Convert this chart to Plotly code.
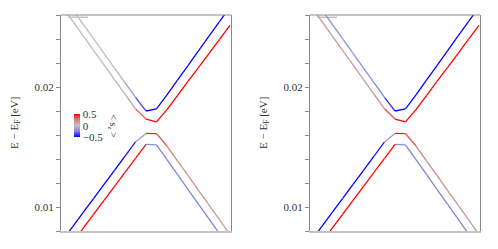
import plotly.graph_objects as go
from plotly.colors import sample_colorscale

# k grid (arbitrary units along the k path)
k = [0, 1, 2, 3, 4, 5, 6, 7, 8, 9, 10, 11, 12, 13, 14, 15, 16]

# band energies E - E_F [eV]
band_A = [0.02771, 0.02648, 0.02525, 0.02403, 0.02281, 0.02158, 0.02036, 0.01914, 0.01800,
          0.01818, 0.01935, 0.02057, 0.02179, 0.02301, 0.02423, 0.02544, 0.02666]
band_B = [0.02672, 0.02550, 0.02428, 0.02306, 0.02184, 0.02062, 0.01940, 0.01818, 0.01733,
          0.01710, 0.01812, 0.01929, 0.02046, 0.02162, 0.02279, 0.02396, 0.02513]
band_C = [0.00717, 0.00834, 0.00953, 0.01070, 0.01188, 0.01306, 0.01424, 0.01542, 0.01613,
          0.01611, 0.01508, 0.01385, 0.01263, 0.01139, 0.01017, 0.00894, 0.00771]
band_D = [0.00587, 0.00704, 0.00821, 0.00938, 0.01055, 0.01172, 0.01288, 0.01405, 0.01522,
          0.01518, 0.01394, 0.01271, 0.01147, 0.01024, 0.00901, 0.00777, 0.00654]

# spin expectation <s_z> per k point (left panel)
sz_A_left = [0.0, 0.0, 0.0, -0.01, -0.02, -0.05, -0.15, -0.35, -0.5, -0.5, -0.5, -0.5, -0.5, -0.5, -0.5, -0.5, -0.5]
sz_B_left = [0.02, 0.02, 0.02, 0.03, 0.04, 0.06, 0.12, 0.3, 0.5, 0.5, 0.5, 0.5, 0.5, 0.5, 0.5, 0.5, 0.5]
sz_C_left = [-0.5, -0.5, -0.5, -0.5, -0.5, -0.5, -0.45, -0.15, 0.45, 0.35, 0.25, 0.2, 0.2, 0.18, 0.17, 0.15, 0.15]
sz_D_left = [0.5, 0.5, 0.5, 0.5, 0.5, 0.5, 0.5, 0.5, -0.2, -0.25, -0.25, -0.25, -0.25, -0.25, -0.25, -0.25, -0.25]
# right panel
sz_A_right = [-0.18, -0.18, -0.18, -0.18, -0.19, -0.2, -0.25, -0.4, -0.5, -0.5, -0.5, -0.5, -0.5, -0.5, -0.5, -0.5, -0.5]
sz_B_right = [0.15, 0.15, 0.15, 0.15, 0.15, 0.16, 0.2, 0.35, 0.5, 0.5, 0.5, 0.5, 0.5, 0.5, 0.5, 0.5, 0.5]
sz_C_right = sz_C_left
sz_D_right = sz_D_left

# short grey stub near top-left of each panel
stub_k = [0.57, 2.48]
stub_E = [0.02582, 0.02582]

y_ticks = [0.01, 0.02]
y_ticklabels = ["0.01", "0.02"]
cbar_vals = [-0.5, 0, 0.5]
cbar_text = ["\u22120.5", "0", "0.5"]

cscale = [[0, "#0000ff"], [0.25, "#8282e0"], [0.5, "#c0c0c0"], [0.75, "#d08282"], [1, "#ff0000"]]

W, H = 498, 249
def px_x(p): return p / W
def px_y(p): return 1 - p / H

fig = go.Figure()

panels = [
    ("x", "y", [(band_A, sz_A_left), (band_B, sz_B_left), (band_C, sz_C_left), (band_D, sz_D_left)]),
    ("x2", "y2", [(band_A, sz_A_right), (band_B, sz_B_right), (band_C, sz_C_right), (band_D, sz_D_right)]),
]
for xa, ya, bands in panels:
    fig.add_trace(go.Scatter(x=stub_k, y=stub_E, mode="lines", xaxis=xa, yaxis=ya,
                             line=dict(color="#a8a8a8", width=1), showlegend=False, hoverinfo="skip"))
    for E, sz in bands:
        for i in range(len(k) - 1):
            col = sample_colorscale(cscale, [(sz[i] + 0.5)])[0]
            fig.add_trace(go.Scatter(x=[k[i], k[i + 1]], y=[E[i], E[i + 1]], mode="lines",
                                     xaxis=xa, yaxis=ya, line=dict(color=col, width=1.3),
                                     showlegend=False, hoverinfo="skip"))

# colorbar carrier
fig.add_trace(go.Scatter(x=[None], y=[None], mode="markers", xaxis="x", yaxis="y", showlegend=False,
                         marker=dict(color=[0], cmin=-0.5, cmax=0.5, colorscale=cscale, showscale=True,
                                     colorbar=dict(x=px_x(74.3), xanchor="left", y=px_y(125.7), yanchor="middle",
                                                   len=23, lenmode="pixels", thickness=6, thicknessmode="pixels",
                                                   xpad=0, ypad=0, outlinewidth=0, ticks="",
                                                   tickvals=cbar_vals, ticktext=cbar_text,
                                                   tickfont=dict(family="Liberation Serif", size=11, color="#333")))))

ydom = [px_y(231), px_y(15)]
common_x = dict(range=[-0.1, 16.1], showticklabels=False, ticks="", showgrid=False, zeroline=False,
                showline=True, linecolor="#c4c4c4", linewidth=2)
common_y = dict(range=[0.008, 0.026], domain=ydom, tickvals=y_ticks, ticktext=y_ticklabels,
                ticks="outside", ticklen=4, tickcolor="#8a8a8a", showgrid=False, zeroline=False,
                showline=True, linecolor="#8a8a8a", linewidth=1, mirror=True,
                tickfont=dict(family="Liberation Serif", size=11, color="#333"),
                minor=dict(dtick=0.002, tick0=0, ticks="outside", ticklen=4, tickcolor="#8a8a8a"))

fig.update_layout(
    width=W, height=H, margin=dict(l=0, r=0, t=0, b=0),
    paper_bgcolor="white", plot_bgcolor="white",
    xaxis=dict(domain=[px_x(61), px_x(231)], anchor="y", **common_x),
    yaxis=dict(anchor="x", **common_y),
    xaxis2=dict(domain=[px_x(310), px_x(480)], anchor="y2", **common_x),
    yaxis2=dict(anchor="x2", **common_y),
)

for xref, yref in [("x domain", "y domain"), ("x2 domain", "y2 domain")]:
    fig.add_shape(type="line", xref=xref, yref=yref, x0=0, x1=1, y0=1, y1=1,
                  line=dict(color="#8a8a8a", width=1))

for cx in [15, 264]:
    fig.add_annotation(text="E \u2212 E<sub>F</sub> [eV]", x=px_x(cx), y=px_y(123), xref="paper", yref="paper",
                       textangle=-90, showarrow=False, xanchor="center", yanchor="middle",
                       font=dict(family="Liberation Serif", size=11, color="#333"))

fig.add_annotation(text="< s<sub>z</sub> >", x=px_x(111.7), y=px_y(126), xref="paper", yref="paper",
                   textangle=90, showarrow=False, xanchor="center", yanchor="middle",
                   font=dict(family="Liberation Serif", size=10, color="#333"))

fig.write_html("out.html", config={"displayModeBar": False},
               post_script="document.body.style.margin='0';")
